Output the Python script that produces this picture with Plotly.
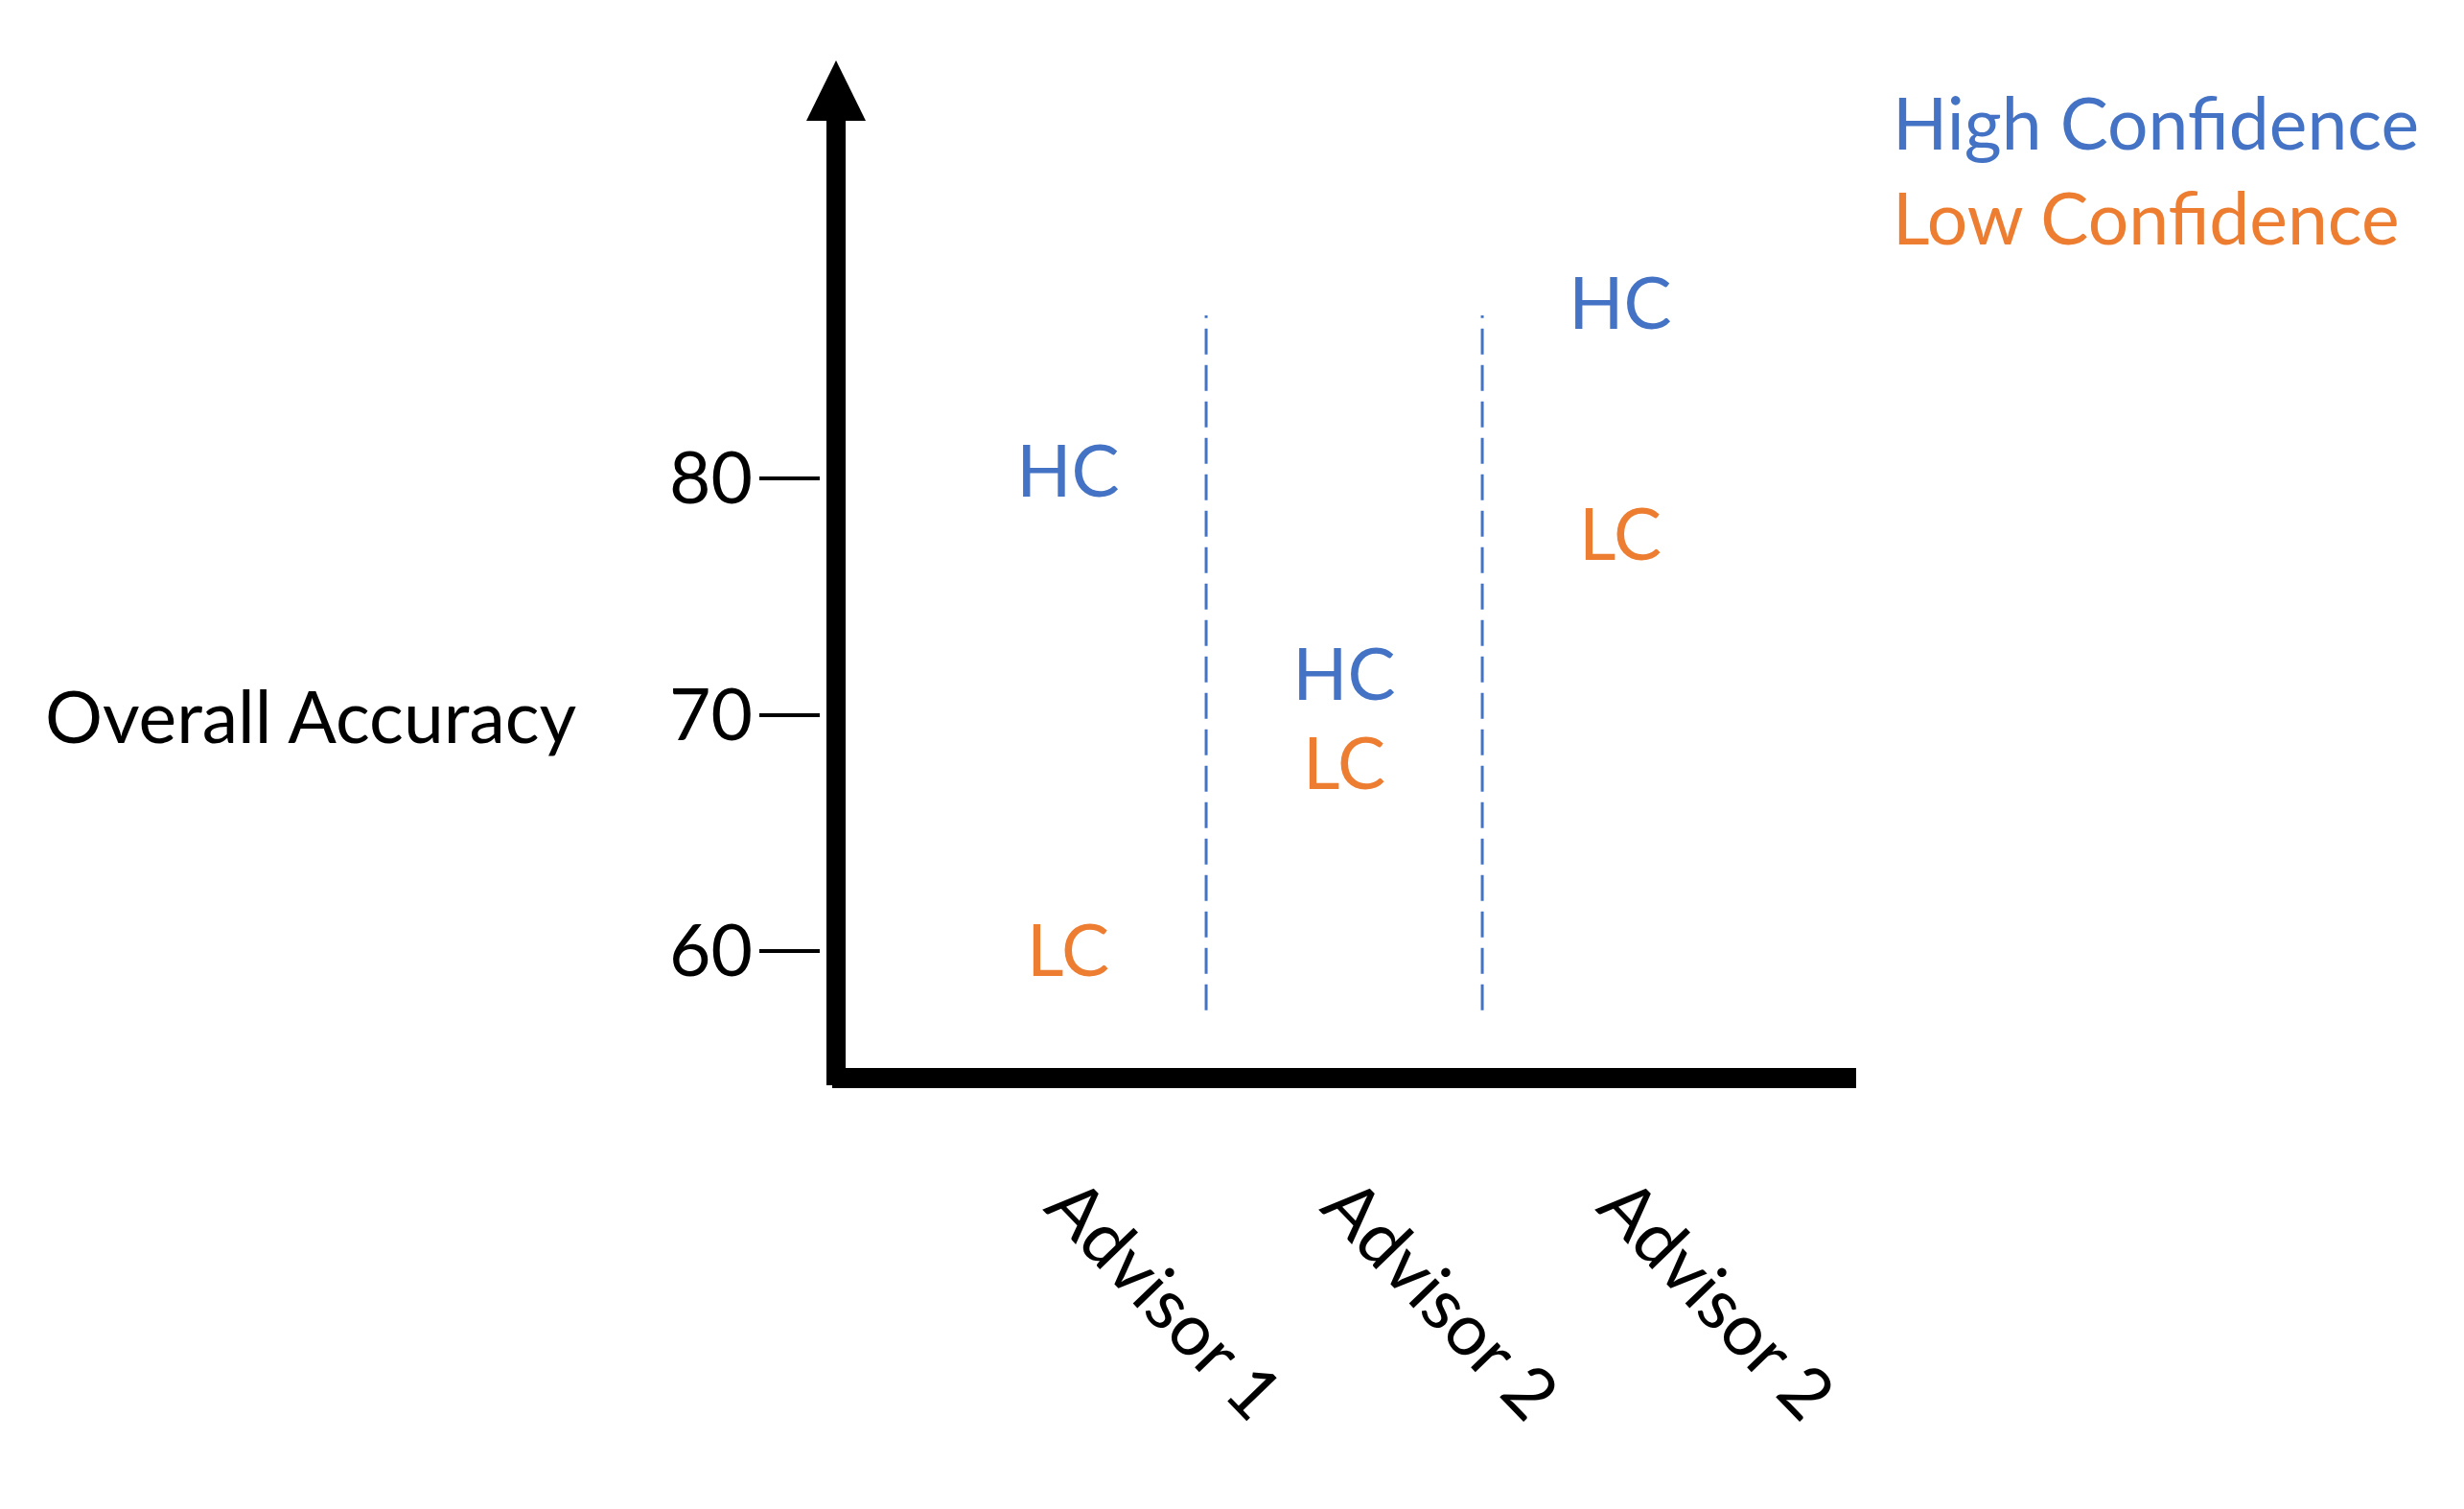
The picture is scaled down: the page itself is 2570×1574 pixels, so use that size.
import plotly.graph_objects as go

# ---- data ----
advisors = ["Advisor 1", "Advisor 2", "Advisor 2"]
advisor_pos = [1, 2, 3]
hc_accuracy = [80.0, 71.4, 87.1]
lc_accuracy = [59.7, 67.6, 77.3]
y_ticks = [60, 70, 80]
series_names = ["High Confidence", "Low Confidence"]
series_marks = ["HC", "LC"]

# ---- style ----
BLUE = "#4472C4"
ORANGE = "#ED7D31"
FONT = "Lato"
FS = 75

W, H = 2570, 1574
OFF = 8  # page body margin
pw, ph = 1080, 1072
ml = 856 - OFF
mt = 63 - OFF
mr = W - ml - pw
mb = H - mt - ph
y_range = [54.2, 97.69]
x_range = [0.104, 3.854]


def px(xpix):
    return (xpix - OFF - ml) / pw


def py(ypix):
    return (H - mb - (ypix - OFF)) / ph


fig = go.Figure()
fig.add_trace(go.Scatter(x=advisor_pos, y=hc_accuracy, mode="text", text=[series_marks[0]] * len(advisor_pos),
                         textposition="middle center", textfont=dict(family=FONT, size=FS, color=BLUE),
                         name=series_names[0], showlegend=False, hoverinfo="skip"))
fig.add_trace(go.Scatter(x=advisor_pos, y=lc_accuracy, mode="text", text=[series_marks[1]] * len(advisor_pos),
                         textposition="middle center", textfont=dict(family=FONT, size=FS, color=ORANGE),
                         name=series_names[1], showlegend=False, hoverinfo="skip"))

shapes = []
# y axis stem
shapes.append(dict(type="rect", xref="paper", yref="paper", x0=px(862), x1=px(882), y0=py(1132), y1=py(125),
                   fillcolor="black", line=dict(width=0), layer="above"))
# arrow head
shapes.append(dict(type="path", xref="paper", yref="paper",
                   path=f"M {px(841)},{py(126)} L {px(872)},{py(63)} L {px(903)},{py(126)} Z",
                   fillcolor="black", line=dict(width=0), layer="above"))
# x axis
shapes.append(dict(type="rect", xref="paper", yref="paper", x0=px(868), x1=px(1936), y0=py(1135), y1=py(1114),
                   fillcolor="black", line=dict(width=0), layer="above"))
# dashed dividers between advisors
divider_y = [57.5, 86.9]
for a, b in zip(advisor_pos[:-1], advisor_pos[1:]):
    xm = (a + b) / 2
    shapes.append(dict(type="line", xref="x", yref="y", x0=xm, x1=xm, y0=divider_y[0], y1=divider_y[1],
                       line=dict(color=BLUE, width=3, dash="27px,11px")))

annotations = [
    dict(text="Overall Accuracy", xref="paper", yref="y", x=px(45), y=70, xanchor="left", yanchor="middle",
         showarrow=False, font=dict(family=FONT, size=FS, color="black")),
    dict(text=series_names[0], xref="paper", yref="paper", x=px(1972), y=py(127), xanchor="left",
         yanchor="middle", showarrow=False, font=dict(family=FONT, size=FS, color=BLUE)),
    dict(text=series_names[1], xref="paper", yref="paper", x=px(1972), y=py(226), xanchor="left",
         yanchor="middle", showarrow=False, font=dict(family=FONT, size=FS, color=ORANGE)),
]

fig.update_layout(
    width=W, height=H,
    margin=dict(l=ml, r=mr, t=mt, b=mb, pad=0),
    paper_bgcolor="white", plot_bgcolor="white",
    showlegend=False,
    shapes=shapes,
    annotations=annotations,
    xaxis=dict(range=x_range, tickmode="array", tickvals=advisor_pos, ticktext=advisors, tickangle=46,
               tickfont=dict(family=FONT, size=FS, color="black"), ticks="", ticklabelstandoff=62,
               showline=False, showgrid=False, zeroline=False, fixedrange=True),
    yaxis=dict(range=y_range, tickmode="array", tickvals=y_ticks, ticktext=[str(v) for v in y_ticks],
               tickfont=dict(family=FONT, size=FS, color="black"), ticks="outside", ticklen=63, tickwidth=4,
               tickcolor="black", ticklabelstandoff=-8,
               showline=False, showgrid=False, zeroline=False, fixedrange=True),
)

fig.write_html("out.html", config={"displayModeBar": False})
